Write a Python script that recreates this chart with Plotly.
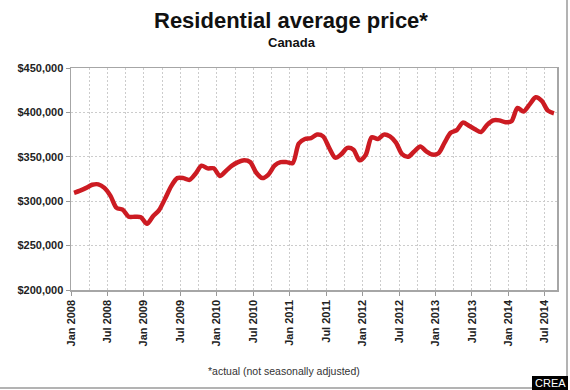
import plotly.graph_objects as go

# ---- data ----
start_year = 2008
avg_price = [
    309500, 312000, 315000, 318500, 319000, 315000, 306000, 292500, 290500, 282500, 282500, 282000,  # 2008
    274500, 283000, 290000, 303000, 317000, 326000, 326000, 324000, 331000, 340000, 337000, 337000,  # 2009
    328500, 334000, 340000, 344000, 346000, 344000, 332000, 326000, 330000, 340000, 344000, 344000,  # 2010
    343000, 365000, 370000, 371000, 375000, 373000, 360000, 349000, 353000, 360000, 358000, 346000,  # 2011
    352000, 372000, 370000, 375000, 373000, 366000, 353000, 350000, 356000, 361500, 356000, 352500,  # 2012
    354000, 366000, 377000, 380000, 388500, 385000, 381000, 378000, 386000, 391000, 391000, 389000,  # 2013
    390000, 405000, 401000, 409000, 417000, 413000, 402000, 399000,                                  # 2014
]
tick_labels = ["Jan 2008", "Jul 2008", "Jan 2009", "Jul 2009", "Jan 2010", "Jul 2010",
               "Jan 2011", "Jul 2011", "Jan 2012", "Jul 2012", "Jan 2013", "Jul 2013",
               "Jan 2014", "Jul 2014"]
y_ticks = [200000, 250000, 300000, 350000, 400000, 450000]

# month index (points sit mid-month, as in the original)
x_vals = [i + 0.5 for i in range(len(avg_price))]
major_ticks = [6 * k for k in range(len(tick_labels))]
minor_ticks = [6 * k + 3 for k in range(len(tick_labels))]

FONT = "Liberation Sans, Arial, sans-serif"
W, H = 570, 390
L, R, T, B = 71, 13, 68, 100
pw, ph = W - L - R, H - T - B

def px(x):
    return (x - L) / pw

def py(y):
    return (H - B - y) / ph

fig = go.Figure()
fig.add_trace(go.Scatter(
    x=x_vals, y=avg_price, mode="lines",
    line=dict(color="#cc1b22", width=4.5, shape="spline", smoothing=0.8),
    hoverinfo="skip", showlegend=False,
))

grid = dict(showgrid=True, gridcolor="#cccccc", gridwidth=1, griddash="2px,2px")

fig.update_xaxes(
    range=[0, 80], tickmode="array", tickvals=major_ticks, ticktext=tick_labels,
    tickangle=-90, ticks="outside", ticklen=4, tickcolor="#999999",
    tickfont=dict(family=FONT, size=11, color="#222222", weight="bold"),
    showline=True, linecolor="#a6a6a6", linewidth=1.5, mirror=True,
    zeroline=False,
    minor=dict(tickvals=minor_ticks, showgrid=True, gridcolor="#cccccc",
               gridwidth=1, griddash="2px,2px", ticks=""),
    **grid,
)
fig.update_yaxes(
    range=[200000, 450000], tickmode="array", tickvals=y_ticks,
    tickformat="$,.0f", ticks="outside", ticklen=4, tickcolor="#999999",
    tickfont=dict(family=FONT, size=11, color="#222222", weight="bold"),
    showline=True, linecolor="#a6a6a6", linewidth=1.5, mirror=True,
    zeroline=False,
    **grid,
)

annotations = [
    dict(text="Residential average price*", x=px(291), y=py(21), xref="paper", yref="paper",
         showarrow=False, xanchor="center", yanchor="middle",
         font=dict(family=FONT, size=22, color="#111111", weight="bold")),
    dict(text="Canada", x=px(292), y=py(42), xref="paper", yref="paper",
         showarrow=False, xanchor="center", yanchor="middle",
         font=dict(family=FONT, size=13, color="#111111", weight="bold")),
    dict(text="*actual (not seasonally adjusted)", x=px(284), y=py(371), xref="paper", yref="paper",
         showarrow=False, xanchor="center", yanchor="middle",
         font=dict(family=FONT, size=10.5, color="#333333")),
    dict(text="CREA", x=px(550), y=py(383), xref="paper", yref="paper",
         showarrow=False, xanchor="center", yanchor="middle",
         font=dict(family=FONT, size=11, color="#ffffff")),
]

shapes = [
    dict(type="line", xref="paper", yref="paper", x0=px(567), x1=px(567), y0=py(0), y1=py(389),
         line=dict(color="#9a9a9a", width=1.5)),
    dict(type="line", xref="paper", yref="paper", x0=px(0), x1=px(567), y0=py(388), y1=py(388),
         line=dict(color="#9a9a9a", width=1.5)),
    dict(type="rect", xref="paper", yref="paper", x0=px(532), x1=px(568), y0=py(376), y1=py(390),
         fillcolor="#000000", line=dict(width=0)),
]

fig.update_layout(
    width=W, height=H,
    margin=dict(l=L, r=R, t=T, b=B),
    paper_bgcolor="#ffffff", plot_bgcolor="#ffffff",
    annotations=annotations, shapes=shapes,
    showlegend=False,
)

fig.write_html(
    "out.html",
    config={"displayModeBar": False, "staticPlot": True},
    post_script="document.body.style.margin='0px';document.body.style.padding='0px';"
                "document.documentElement.style.overflow='hidden';",
)
